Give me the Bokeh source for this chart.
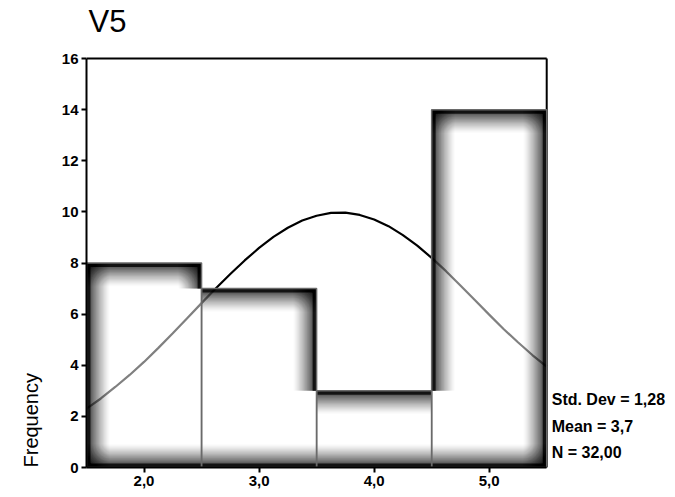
import math
from bokeh.plotting import figure
from bokeh.models import Range1d, FixedTicker, Label, ColumnDataSource, Title
from bokeh.embed import file_html
from bokeh.resources import INLINE

# ---------------- data ----------------
bin_centers = [2.0, 3.0, 4.0, 5.0]
frequencies = [8, 7, 3, 14]
bin_width = 1.0
x_tick_values = [2.0, 3.0, 4.0, 5.0]
x_tick_labels = ["2,0", "3,0", "4,0", "5,0"]
y_tick_values = [0, 2, 4, 6, 8, 10, 12, 14, 16]
curve_x = [1.5, 1.625, 1.75, 1.875, 2.0, 2.125, 2.25, 2.375, 2.5, 2.625,
           2.75, 2.875, 3.0, 3.125, 3.25, 3.375, 3.5, 3.625, 3.75, 3.875,
           4.0, 4.125, 4.25, 4.375, 4.5, 4.625, 4.75, 4.875, 5.0, 5.125,
           5.25, 5.375, 5.5]
curve_y = [2.3, 2.7, 3.15, 3.62, 4.13, 4.68, 5.25, 5.84, 6.43, 7.01,
           7.57, 8.1, 8.59, 9.02, 9.38, 9.66, 9.85, 9.96, 9.97, 9.88,
           9.7, 9.44, 9.09, 8.68, 8.2, 7.68, 7.12, 6.55, 5.98, 5.42,
           4.9, 4.4, 3.95]
title_text = "V5"
y_label_text = "Frequency"
stats_lines = ["Std. Dev = 1,28", "Mean = 3,7", "N = 32,00"]

# ---------------- layout ----------------
W, H = 675, 497
FL, FR, FT, FB = 85, 546, 58, 467          # histogram box edges in pixels
X0, X1, Y0, Y1 = 1.5, 5.5, 0.0, 16.0
PX = (X1 - X0) / (FR - FL)                 # data units per pixel (x)
PY = (Y1 - Y0) / (FB - FT)                 # data units per pixel (y)
CANVAS_R, CANVAS_T = 670, 3                # frame extended so texts fit inside

p = figure(width=W, height=H, output_backend="svg", toolbar_location=None,
           title=None,
           x_range=Range1d(X0, X0 + (CANVAS_R - FL) * PX),
           y_range=Range1d(Y0, (FB - CANVAS_T) * PY),
           min_border_left=FL, min_border_right=W - CANVAS_R,
           min_border_top=CANVAS_T, min_border_bottom=H - FB)
p.background_fill_color = "white"
p.border_fill_color = "white"
p.outline_line_color = None
p.grid.visible = False

FONT = "Liberation Sans"
for ax in (p.xaxis[0], p.yaxis[0]):
    ax.axis_line_color = "black"
    ax.axis_line_width = 2
    ax.major_tick_line_color = "black"
    ax.major_tick_line_width = 2
    ax.major_tick_in = 0
    ax.major_tick_out = 5
    ax.minor_tick_line_color = None
    ax.major_label_text_font = FONT
    ax.major_label_text_font_style = "bold"
    ax.major_label_text_font_size = "15px"
    ax.major_label_text_color = "black"
    ax.major_label_standoff = 3

p.xaxis[0].bounds = (X0, X1)
p.yaxis[0].bounds = (Y0, Y1)
p.xaxis[0].ticker = FixedTicker(ticks=x_tick_values)
p.xaxis[0].major_label_overrides = {v: s for v, s in zip(x_tick_values, x_tick_labels)}
p.yaxis[0].ticker = FixedTicker(ticks=y_tick_values)

# box border (top and right)
p.segment(x0=[X0, X1], y0=[Y1, 0], x1=[X1, X1], y1=[Y1, Y1],
          line_color="black", line_width=2)

# ---------------- normal curve (drawn first, bars partially cover it) ----------------
p.line(curve_x, curve_y, line_color="black", line_width=2.2)

lefts = [c - bin_width / 2 for c in bin_centers]
rights = [c + bin_width / 2 for c in bin_centers]
n = len(frequencies)

# translucent white body so the curve looks grey inside the bars
p.quad(left=lefts, right=rights, bottom=[0] * n, top=frequencies,
       fill_color="white", fill_alpha=0.5, line_color=None)

# ---------------- blurred dark edges (stacked translucent strips) ----------------
widths = list(range(1, 25))          # px
def darkness(depth):
    if depth <= 4:
        return 0.9
    return 0.62 * max(0.0, 1 - (depth - 4) / 20.0) ** 1.3
T = [1 - darkness(w - 0.5) for w in widths] + [1.0]
alphas = []
for k in range(len(widths)):
    a = 1 - T[k] / T[k + 1] if T[k + 1] > 0 else 0
    alphas.append(max(0.0, min(1.0, a)))

sl, sr, sb, st, sa = [], [], [], [], []
def add(l, r, b, t, a):
    sl.append(l); sr.append(r); sb.append(b); st.append(t); sa.append(a)

for i in range(n):
    l, r, h = lefts[i], rights[i], frequencies[i]
    lower_left = frequencies[i - 1] if i > 0 else 0
    lower_right = frequencies[i + 1] if i < n - 1 else 0
    for w, a in zip(widths, alphas):
        if a <= 0:
            continue
        add(l, r, h - w * PY, h, a)            # top edge
        add(l, r, 0, w * PY, a)                # bottom edge
        if lower_left < h:                     # exposed left edge
            add(l, l + w * PX, lower_left, h, a)
        if lower_right < h:                    # exposed right edge
            add(r - w * PX, r, lower_right, h, a)

p.quad(source=ColumnDataSource(dict(l=sl, r=sr, b=sb, t=st, a=sa)),
       left="l", right="r", bottom="b", top="t",
       fill_color="black", fill_alpha="a", line_color=None)

# bar outlines
p.quad(left=lefts, right=rights, bottom=[0] * n, top=frequencies,
       fill_color=None, line_color="#6a6a6a", line_width=1.5)

# ---------------- texts ----------------
p.add_layout(Label(x=X0 + (106 - FL) * PX, y=(FB - 21) * PY, text=title_text,
                   text_font=FONT, text_font_size="31px", text_color="black",
                   text_align="center", text_baseline="middle"))
for line, yy in zip(stats_lines, [399, 426, 452]):
    p.add_layout(Label(x=X0 + (551 - FL) * PX, y=(FB - yy) * PY, text=line,
                       text_font=FONT, text_font_style="bold", text_font_size="16px",
                       text_color="black", text_align="left", text_baseline="middle"))

p.add_layout(Title(text=y_label_text, align="left", text_font=FONT,
                   text_font_size="20px", text_font_style="normal",
                   text_color="black", standoff=34), "left")

open("out.html", "w").write(file_html(p, INLINE))
